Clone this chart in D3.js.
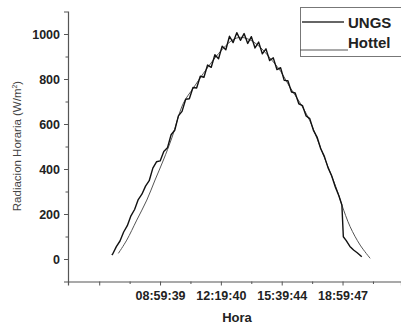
<!DOCTYPE html>
<html>
<head>
<meta charset="utf-8">
<script src="https://cdn.jsdelivr.net/npm/d3@7"></script>
<style>
  body { margin: 0; background: #fff; }
  svg { display: block; font-family: "Liberation Sans", Arial, sans-serif; }
  .axis path, .axis line { stroke: #555; }
  .axis text { fill: #222; font-weight: bold; font-size: 12.5px; }
</style>
</head>
<body>
<div id="chart"></div>
<script>
// time of day in decimal hours
const ungsHours = [6.35, 6.4, 6.6, 6.8, 7.0, 7.2, 7.4, 7.6, 7.8, 8.0, 8.2, 8.4, 8.6, 8.8, 9.0, 9.2, 9.4, 9.6, 9.8,
  10.0, 10.2, 10.4, 10.6, 10.8, 11.0, 11.2, 11.4, 11.6, 11.8, 12.0, 12.2, 12.4, 12.6, 12.8, 13.0, 13.2, 13.4,
  13.6, 13.8, 14.0, 14.2, 14.4, 14.6, 14.8, 15.0, 15.2, 15.4, 15.6, 15.8, 16.0, 16.2, 16.4, 16.6, 16.8, 17.0,
  17.2, 17.4, 17.6, 17.8, 18.0, 18.2, 18.4, 18.6, 18.8, 18.96, 19.04, 19.2, 19.4, 19.6, 19.8, 20.05];
const ungsValues = [18, 22, 55, 80, 120, 148, 192, 220, 264, 288, 324, 348, 404, 432, 436, 478, 494, 552, 572,
  636, 656, 710, 712, 762, 760, 812, 808, 862, 852, 908, 890, 946, 930, 990, 962, 1006, 972,
  1002, 958, 988, 938, 964, 912, 934, 882, 894, 842, 850, 794, 792, 742, 738, 690, 682, 636,
  624, 572, 542, 490, 456, 406, 370, 320, 280, 240, 99, 82, 56, 40, 28, 10];

const hottelHours = [6.71, 7.17, 7.72, 8.27, 8.72, 9.18, 9.64, 10.27, 10.82, 11.37, 11.92, 12.5, 13.0, 13.4,
  13.9, 14.5, 15.0, 15.6, 16.1, 16.7, 17.2, 17.6, 18.1, 18.7, 18.96, 19.41, 19.96, 20.51];
const hottelValues = [25, 84, 173, 262, 351, 440, 538, 692, 760, 825, 885, 940, 975, 985,
  975, 940, 895, 835, 765, 690, 615, 535, 430, 305, 240, 144, 62, 3];

const xTickHours = [5.6606, 8.9942, 12.3278, 15.6622, 18.9964];
const xTickLabels = ["", "08:59:39", "12:19:40", "15:39:44", "18:59:47"];
const xMinorHours = [7.3274, 10.661, 13.995, 17.3293, 20.6635];
const yTicks = [0, 200, 400, 600, 800, 1000];
const yMinorTicks = [100, 300, 500, 700, 900];

const seriesNames = ["UNGS", "Hottel"];

const W = 401, H = 327;
const svg = d3.select("#chart").append("svg")
    .attr("width", W)
    .attr("height", H);

const x = d3.scaleLinear().domain([3.95, 22.2]).range([68, 401]);
const y = d3.scaleLinear().domain([-100, 1100]).range([281.5, 11.5]);

// X axis
svg.append("g")
    .attr("class", "axis")
    .attr("transform", `translate(0,${y(-100)})`)
    .call(d3.axisBottom(x).tickValues(xTickHours).tickSize(4).tickPadding(6)
        .tickFormat((d, i) => xTickLabels[i]));
svg.append("g")
    .attr("class", "axis")
    .attr("transform", `translate(0,${y(-100)})`)
    .call(d3.axisBottom(x).tickValues(xMinorHours).tickSize(2.5).tickFormat(""))
    .select(".domain").remove();

// Y axis
svg.append("g")
    .attr("class", "axis")
    .attr("transform", `translate(${x(3.95)},0)`)
    .call(d3.axisLeft(y).tickValues(yTicks).tickSize(4).tickPadding(4).tickFormat(d3.format("d")));
svg.append("g")
    .attr("class", "axis")
    .attr("transform", `translate(${x(3.95)},0)`)
    .call(d3.axisLeft(y).tickValues(yMinorTicks).tickSize(2.5).tickFormat(""))
    .select(".domain").remove();

svg.selectAll(".domain").attr("stroke-width", 1.2);

// axis titles
svg.append("text")
    .attr("text-anchor", "middle")
    .attr("transform", `translate(21,${146}) rotate(-90)`)
    .style("font-size", "11.5px")
    .style("fill", "#444")
    .html('Radiacion Horaria (W/m<tspan dy="-4" font-size="7px">2</tspan><tspan dy="4">)</tspan>');

svg.append("text")
    .attr("text-anchor", "middle")
    .attr("x", 237)
    .attr("y", 322)
    .style("font-size", "13px")
    .style("font-weight", "bold")
    .style("fill", "#222")
    .text("Hora");

// lines
const hottelLine = d3.line()
    .x((d, i) => x(hottelHours[i]))
    .y(d => y(d))
    .curve(d3.curveCatmullRom);
svg.append("path")
    .datum(hottelValues)
    .attr("fill", "none")
    .attr("stroke", "#555")
    .attr("stroke-width", 1)
    .attr("d", hottelLine);

const ungsLine = d3.line()
    .x((d, i) => x(ungsHours[i]))
    .y(d => y(d));
svg.append("path")
    .datum(ungsValues)
    .attr("fill", "none")
    .attr("stroke", "#111")
    .attr("stroke-width", 1.4)
    .attr("stroke-linejoin", "round")
    .attr("d", ungsLine);

// legend
const legend = svg.append("g");
legend.append("rect")
    .attr("x", 300.5).attr("y", 7.5)
    .attr("width", 110).attr("height", 49)
    .attr("fill", "none")
    .attr("stroke", "#777");
legend.append("line")
    .attr("x1", 302).attr("x2", 344).attr("y1", 22).attr("y2", 22)
    .attr("stroke", "#333").attr("stroke-width", 1.5);
legend.append("line")
    .attr("x1", 300).attr("x2", 348).attr("y1", 50).attr("y2", 50)
    .attr("stroke", "#555").attr("stroke-width", 1.2);
legend.selectAll("text.lg")
    .data(seriesNames)
    .enter()
    .append("text")
    .attr("class", "lg")
    .attr("x", 348)
    .attr("y", (d, i) => 28 + i * 20)
    .style("font-size", "15px")
    .style("font-weight", "bold")
    .style("fill", "#222")
    .text(d => d);
</script>
</body>
</html>
